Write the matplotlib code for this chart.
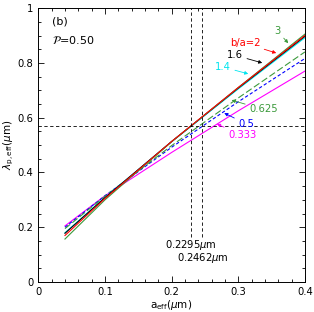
import matplotlib
matplotlib.use("Agg")
import matplotlib.pyplot as plt
from matplotlib.ticker import MultipleLocator

# --- datos ---
a_eff = [0.04, 0.1, 0.2, 0.3, 0.4]
lam_3 = [0.157, 0.300, 0.512, 0.710, 0.905]
lam_2 = [0.170, 0.305, 0.513, 0.710, 0.900]
lam_16 = [0.178, 0.308, 0.513, 0.708, 0.897]
lam_14 = [0.180, 0.309, 0.512, 0.705, 0.892]
lam_0625 = [0.195, 0.313, 0.498, 0.672, 0.840]
lam_05 = [0.200, 0.315, 0.492, 0.658, 0.816]
lam_0333 = [0.205, 0.315, 0.473, 0.625, 0.770]

a_mark1, a_mark2 = 0.2295, 0.2462
lam_mark = 0.568

plt.rcParams['font.family'] = 'DejaVu Sans'
plt.rcParams['mathtext.fontset'] = 'dejavusans'
fs = 7.2

fig = plt.figure(figsize=(3.14, 3.12), dpi=100)
ax = fig.add_axes([0.122, 0.096, 0.849, 0.878])

green = '#3c9a3c'
lw = 0.8
ax.plot(a_eff, lam_0333, color='#ff00ff', lw=lw)
ax.plot(a_eff, lam_05, color='#0000ff', lw=lw, dashes=(3, 2))
ax.plot(a_eff, lam_0625, color=green, lw=lw, dashes=(6, 2.5))
ax.plot(a_eff, lam_14, color='#00e5ee', lw=lw)
ax.plot(a_eff, lam_16, color='black', lw=lw)
ax.plot(a_eff, lam_3, color=green, lw=lw)
ax.plot(a_eff, lam_2, color='#ff0000', lw=lw)

# líneas de referencia
ax.axhline(lam_mark, color='black', lw=0.6, dashes=(4, 3))
ax.plot([a_mark1, a_mark1], [0.164, 1.0], color='black', lw=0.6, dashes=(4, 3))
ax.plot([a_mark2, a_mark2], [0.164, 1.0], color='black', lw=0.6, dashes=(4, 3))
ax.text(a_mark1, 0.135, r'0.2295$\mu$m', fontsize=fs, ha='center', va='center')
ax.text(a_mark2, 0.088, r'0.2462$\mu$m', fontsize=fs, ha='center', va='center')

# etiquetas con flechas
def label(txt, xy, xytext, c):
    ax.annotate(txt, xy=xy, xytext=xytext, color=c, fontsize=fs,
                ha='center', va='center',
                arrowprops=dict(arrowstyle='-|>', color=c, lw=0.6,
                                mutation_scale=5, shrinkA=1, shrinkB=0))

label('3', (0.375, 0.872), (0.358, 0.918), green)
label('b/a=2', (0.357, 0.836), (0.310, 0.872), '#ff0000')
label('1.6', (0.336, 0.800), (0.295, 0.828), 'black')
label('1.4', (0.315, 0.760), (0.277, 0.785), '#00e5ee')
label('0.625', (0.290, 0.664), (0.338, 0.630), green)
label('0.5', (0.279, 0.617), (0.312, 0.577), '#0000ff')
label('0.333', (0.268, 0.577), (0.306, 0.536), '#ff00ff')

ax.text(0.02, 0.95, '(b)', fontsize=8, ha='left', va='center')
ax.text(0.02, 0.885, r'$\mathcal{P}$=0.50', fontsize=8, ha='left', va='center')

ax.set_xlim(0, 0.4)
ax.set_ylim(0, 1)
ax.xaxis.set_minor_locator(MultipleLocator(0.02))
ax.yaxis.set_minor_locator(MultipleLocator(0.05))
ax.set_xticks([0, 0.1, 0.2, 0.3, 0.4])
ax.set_xticklabels(['0', '0.1', '0.2', '0.3', '0.4'])
ax.set_yticks([0, 0.2, 0.4, 0.6, 0.8, 1.0])
ax.set_yticklabels(['0', '0.2', '0.4', '0.6', '0.8', '1'])
ax.tick_params(which='both', direction='in', top=True, right=True,
               labelsize=fs, width=0.6)
ax.tick_params(which='major', length=4)
ax.tick_params(which='minor', length=2)
for s in ax.spines.values():
    s.set_linewidth(0.7)

ax.set_xlabel(r'a$_{\rm eff}$($\mu$m)', fontsize=7.5, labelpad=1)
ax.set_ylabel(r'$\lambda_{\rm p,eff}$($\mu$m)', fontsize=7.5, labelpad=1)

fig.savefig('out.png', dpi=100)
